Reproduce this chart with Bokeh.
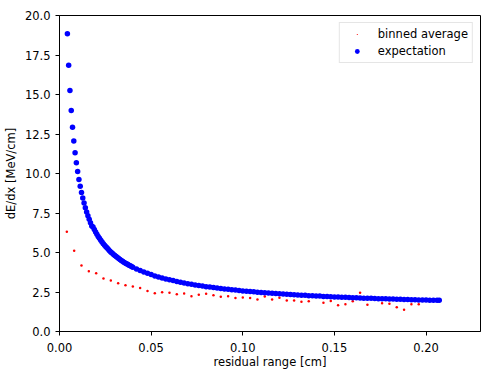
from bokeh.plotting import figure
from bokeh.models import Range1d, FixedTicker, NumeralTickFormatter, Legend, LegendItem, ColumnDataSource
from bokeh.embed import file_html
from bokeh.resources import INLINE

# ---- data ----
exp_x = [0.0043, 0.0050, 0.0057, 0.0064, 0.0071, 0.0078, 0.0085, 0.0092, 0.0099, 0.0106,
         0.0113, 0.0120, 0.0127, 0.0134, 0.0141, 0.0148, 0.0155, 0.0162, 0.0169, 0.0176,
         0.0183, 0.0190, 0.0197, 0.0204, 0.0211, 0.0218, 0.0225, 0.0232, 0.0239, 0.0246,
         0.0253, 0.0260, 0.0267, 0.0274, 0.0281, 0.0288, 0.0295, 0.0302, 0.0309, 0.0316,
         0.0323, 0.0330, 0.0337, 0.0344, 0.0351, 0.0358, 0.0365, 0.0372, 0.0379, 0.0386,
         0.0393, 0.0400,
         0.042, 0.044, 0.046, 0.048, 0.050, 0.052, 0.054, 0.056, 0.058, 0.060,
         0.062, 0.064, 0.066, 0.068, 0.070, 0.072, 0.074, 0.076, 0.078, 0.080,
         0.082, 0.084, 0.086, 0.088, 0.090, 0.092, 0.094, 0.096, 0.098, 0.100,
         0.102, 0.104, 0.106, 0.108, 0.110, 0.112, 0.114, 0.116, 0.118, 0.120,
         0.122, 0.124, 0.126, 0.128, 0.130, 0.132, 0.134, 0.136, 0.138, 0.140,
         0.142, 0.144, 0.146, 0.148, 0.150, 0.152, 0.154, 0.156, 0.158, 0.160,
         0.162, 0.164, 0.166, 0.168, 0.170, 0.172, 0.174, 0.176, 0.178, 0.180,
         0.182, 0.184, 0.186, 0.188, 0.190, 0.192, 0.194, 0.196, 0.198, 0.200,
         0.202, 0.204, 0.206, 0.2072]
exp_y = [18.85, 16.85, 15.25, 13.98, 12.93, 12.06, 11.31, 10.68, 10.12, 9.62,
         9.20, 8.80, 8.45, 8.13, 7.84, 7.57, 7.33, 7.10, 6.89, 6.68,
         6.62, 6.45, 6.30, 6.16, 6.02, 5.90, 5.78, 5.67, 5.56, 5.46,
         5.36, 5.28, 5.19, 5.10, 5.02, 4.95, 4.88, 4.81, 4.74, 4.68,
         4.62, 4.56, 4.50, 4.45, 4.39, 4.34, 4.29, 4.25, 4.20, 4.16,
         4.11, 4.07,
         3.96, 3.86, 3.77, 3.68, 3.60, 3.52, 3.45, 3.39, 3.33, 3.27,
         3.22, 3.16, 3.12, 3.07, 3.03, 2.99, 2.95, 2.91, 2.88, 2.84,
         2.81, 2.78, 2.75, 2.72, 2.69, 2.67, 2.64, 2.62, 2.59, 2.57,
         2.55, 2.53, 2.51, 2.49, 2.47, 2.45, 2.44, 2.42, 2.40, 2.39,
         2.37, 2.36, 2.34, 2.33, 2.31, 2.30, 2.29, 2.27, 2.26, 2.25,
         2.24, 2.22, 2.21, 2.20, 2.19, 2.18, 2.17, 2.16, 2.15, 2.14,
         2.13, 2.12, 2.11, 2.11, 2.10, 2.09, 2.08, 2.07, 2.07, 2.06,
         2.05, 2.04, 2.04, 2.03, 2.02, 2.01, 2.01, 2.00, 2.00, 1.99,
         1.98, 1.98, 1.97, 1.97]

bin_x = [0.004, 0.008, 0.012, 0.016, 0.020, 0.024, 0.028, 0.032, 0.036, 0.040,
         0.044, 0.048, 0.052, 0.056, 0.060, 0.064, 0.068, 0.072, 0.076, 0.080,
         0.084, 0.088, 0.092, 0.096, 0.100, 0.104, 0.108, 0.112, 0.116, 0.120,
         0.124, 0.128, 0.132, 0.136, 0.140, 0.144, 0.148, 0.152, 0.156, 0.160,
         0.164, 0.168, 0.172, 0.176, 0.180, 0.184, 0.188, 0.192, 0.196]
bin_y = [6.31, 5.11, 4.18, 3.82, 3.69, 3.35, 3.23, 3.05, 2.92, 2.85,
         2.76, 2.57, 2.42, 2.49, 2.46, 2.36, 2.40, 2.23, 2.33, 2.39,
         2.29, 2.20, 2.23, 2.12, 2.15, 2.12, 2.02, 2.22, 2.02, 2.14,
         1.96, 1.96, 1.88, 1.91, 2.20, 1.82, 1.93, 1.66, 1.72, 1.92,
         2.45, 1.69, 2.17, 1.79, 1.75, 1.53, 1.37, 1.72, 1.72]

x_ticks = [0.0, 0.05, 0.10, 0.15, 0.20]
y_ticks = [0.0, 2.5, 5.0, 7.5, 10.0, 12.5, 15.0, 17.5, 20.0]

FONT = "DejaVu Sans"
FS = "11.5px"

p = figure(width=503, height=375, output_backend="svg", toolbar_location=None,
           x_range=Range1d(0, 0.2297), y_range=Range1d(0, 20),
           min_border_left=57, min_border_right=23, min_border_top=15, min_border_bottom=44)
p.background_fill_color = "white"
p.border_fill_color = "white"
p.grid.visible = False
p.outline_line_color = "black"
p.outline_line_width = 1
p.outline_line_alpha = 1.0

src_bin = ColumnDataSource(dict(x=bin_x, y=bin_y))
src_exp = ColumnDataSource(dict(x=exp_x, y=exp_y))
r_bin = p.scatter("x", "y", source=src_bin, marker="dot", size=10, line_color="#ff0000", fill_color="#ff0000")
r_exp = p.scatter("x", "y", source=src_exp, marker="circle", size=5.5, fill_color="#0000ff", line_color=None)

for ax in (p.xaxis[0], p.yaxis[0]):
    ax.axis_line_color = "black"
    ax.major_tick_line_color = "black"
    ax.minor_tick_line_color = None
    ax.major_tick_in = 0
    ax.major_tick_out = 4
    ax.major_label_text_font = FONT
    ax.major_label_text_font_size = FS
    ax.major_label_text_color = "black"
    ax.axis_label_text_font = FONT
    ax.axis_label_text_font_size = FS
    ax.axis_label_text_font_style = "normal"
    ax.axis_label_text_color = "black"

p.xaxis.ticker = FixedTicker(ticks=x_ticks)
p.xaxis.formatter = NumeralTickFormatter(format="0.00")
p.xaxis.axis_label = "residual range [cm]"
p.xaxis.major_label_standoff = 7
p.xaxis.axis_label_standoff = 0

p.yaxis.ticker = FixedTicker(ticks=y_ticks)
p.yaxis.formatter = NumeralTickFormatter(format="0.0")
p.yaxis.axis_label = "dE/dx [MeV/cm]"
p.yaxis.major_label_standoff = 5
p.yaxis.axis_label_standoff = 4

legend = Legend(items=[LegendItem(label="binned average", renderers=[r_bin]),
                       LegendItem(label="expectation", renderers=[r_exp])],
                location="top_right")
legend.margin = 7
legend.padding = 4
legend.spacing = 3
legend.glyph_height = 12
legend.glyph_width = 26
legend.label_height = 12
legend.label_standoff = 8
legend.label_text_font = FONT
legend.label_text_font_size = FS
legend.label_text_color = "black"
legend.border_line_color = "#cccccc"
legend.border_line_width = 1
legend.background_fill_alpha = 0.8
p.add_layout(legend)

open("out.html", "w").write(file_html(p, INLINE))
